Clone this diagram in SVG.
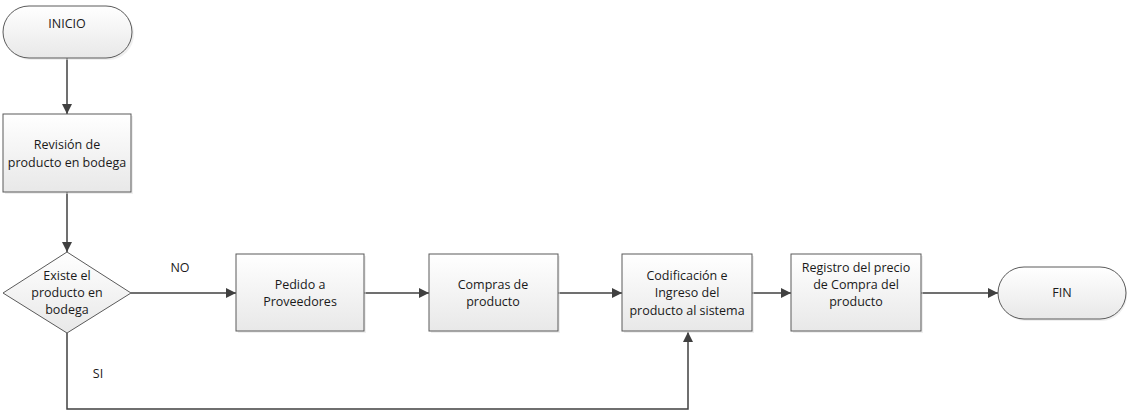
<svg xmlns="http://www.w3.org/2000/svg" width="1128" height="411" viewBox="0 0 1128 411">
  <defs>
    <linearGradient id="fillGrad" x1="0" y1="0" x2="0" y2="1">
      <stop offset="0" stop-color="#ffffff"/>
      <stop offset="1" stop-color="#e8e8e8"/>
    </linearGradient>
    <marker id="arrow" viewBox="0 0 10 10" refX="10" refY="5" markerWidth="10" markerHeight="10" markerUnits="userSpaceOnUse" orient="auto">
      <path d="M0,0 L10,5 L0,10 Z" fill="#404040"/>
    </marker>
  </defs>
  <style>
    .shape { fill: url(#fillGrad); stroke: #5a5a5a; stroke-width: 1; }
    .shadow { fill: #e0e0e0; opacity: 0.5; }
    .label { font-family: "Open Sans", "Liberation Sans", sans-serif; font-size: 12.5px; fill: #1a1a1a; text-anchor: middle; }
    .conn { fill: none; stroke: #404040; stroke-width: 1.5; marker-end: url(#arrow); }
  </style>
  <rect width="1128" height="411" fill="#ffffff"/>

  <g id="connectors">
    <path class="conn" d="M67,58 L67,114"/>
    <path class="conn" d="M67,192 L67,252"/>
    <path class="conn" d="M131,293 L236,293"/>
    <path class="conn" d="M364,293 L429,293"/>
    <path class="conn" d="M558,293 L622,293"/>
    <path class="conn" d="M752,293 L791,293"/>
    <path class="conn" d="M921,293 L998,293"/>
    <path class="conn" d="M67,333 L67,409 L688,409 L688,332"/>
    <text class="label" x="180" y="272">NO</text>
    <text class="label" x="98" y="378">SI</text>
  </g>

  <g id="inicio">
    <rect class="shadow" x="5" y="8" width="129" height="52" rx="26"/>
    <rect class="shape" x="3" y="6" width="129" height="52" rx="26"/>
    <text class="label" x="67" y="28">INICIO</text>
  </g>

  <g id="revision">
    <rect class="shadow" x="5" y="116" width="128" height="78"/>
    <rect class="shape" x="3" y="114" width="128" height="78"/>
    <text class="label" x="67" y="149">Revisión de</text>
    <text class="label" x="67" y="167">producto en bodega</text>
  </g>

  <g id="decision">
    <polygon class="shape" points="67,252 131,293 67,333 3,293"/>
    <text class="label" x="67" y="280">Existe el</text>
    <text class="label" x="67" y="297">producto en</text>
    <text class="label" x="67" y="314">bodega</text>
  </g>

  <g id="pedido">
    <rect class="shadow" x="238" y="256" width="128" height="77"/>
    <rect class="shape" x="236" y="254" width="128" height="77"/>
    <text class="label" x="300" y="289">Pedido a</text>
    <text class="label" x="300" y="306">Proveedores</text>
  </g>

  <g id="compras">
    <rect class="shadow" x="431" y="256" width="129" height="77"/>
    <rect class="shape" x="429" y="254" width="129" height="77"/>
    <text class="label" x="493" y="289">Compras de</text>
    <text class="label" x="493" y="306">producto</text>
  </g>

  <g id="codificacion">
    <rect class="shadow" x="624" y="256" width="130" height="77"/>
    <rect class="shape" x="622" y="254" width="130" height="77"/>
    <text class="label" x="687" y="280">Codificación e</text>
    <text class="label" x="687" y="297">Ingreso del</text>
    <text class="label" x="687" y="315">producto al sistema</text>
  </g>

  <g id="registro">
    <rect class="shadow" x="793" y="256" width="130" height="77"/>
    <rect class="shape" x="791" y="254" width="130" height="77"/>
    <text class="label" x="856" y="272">Registro del precio</text>
    <text class="label" x="856" y="289">de Compra del</text>
    <text class="label" x="856" y="306">producto</text>
  </g>

  <g id="fin">
    <rect class="shadow" x="1000" y="269" width="127" height="52" rx="26"/>
    <rect class="shape" x="998" y="267" width="128" height="52" rx="26"/>
    <text class="label" x="1062" y="297">FIN</text>
  </g>
</svg>
